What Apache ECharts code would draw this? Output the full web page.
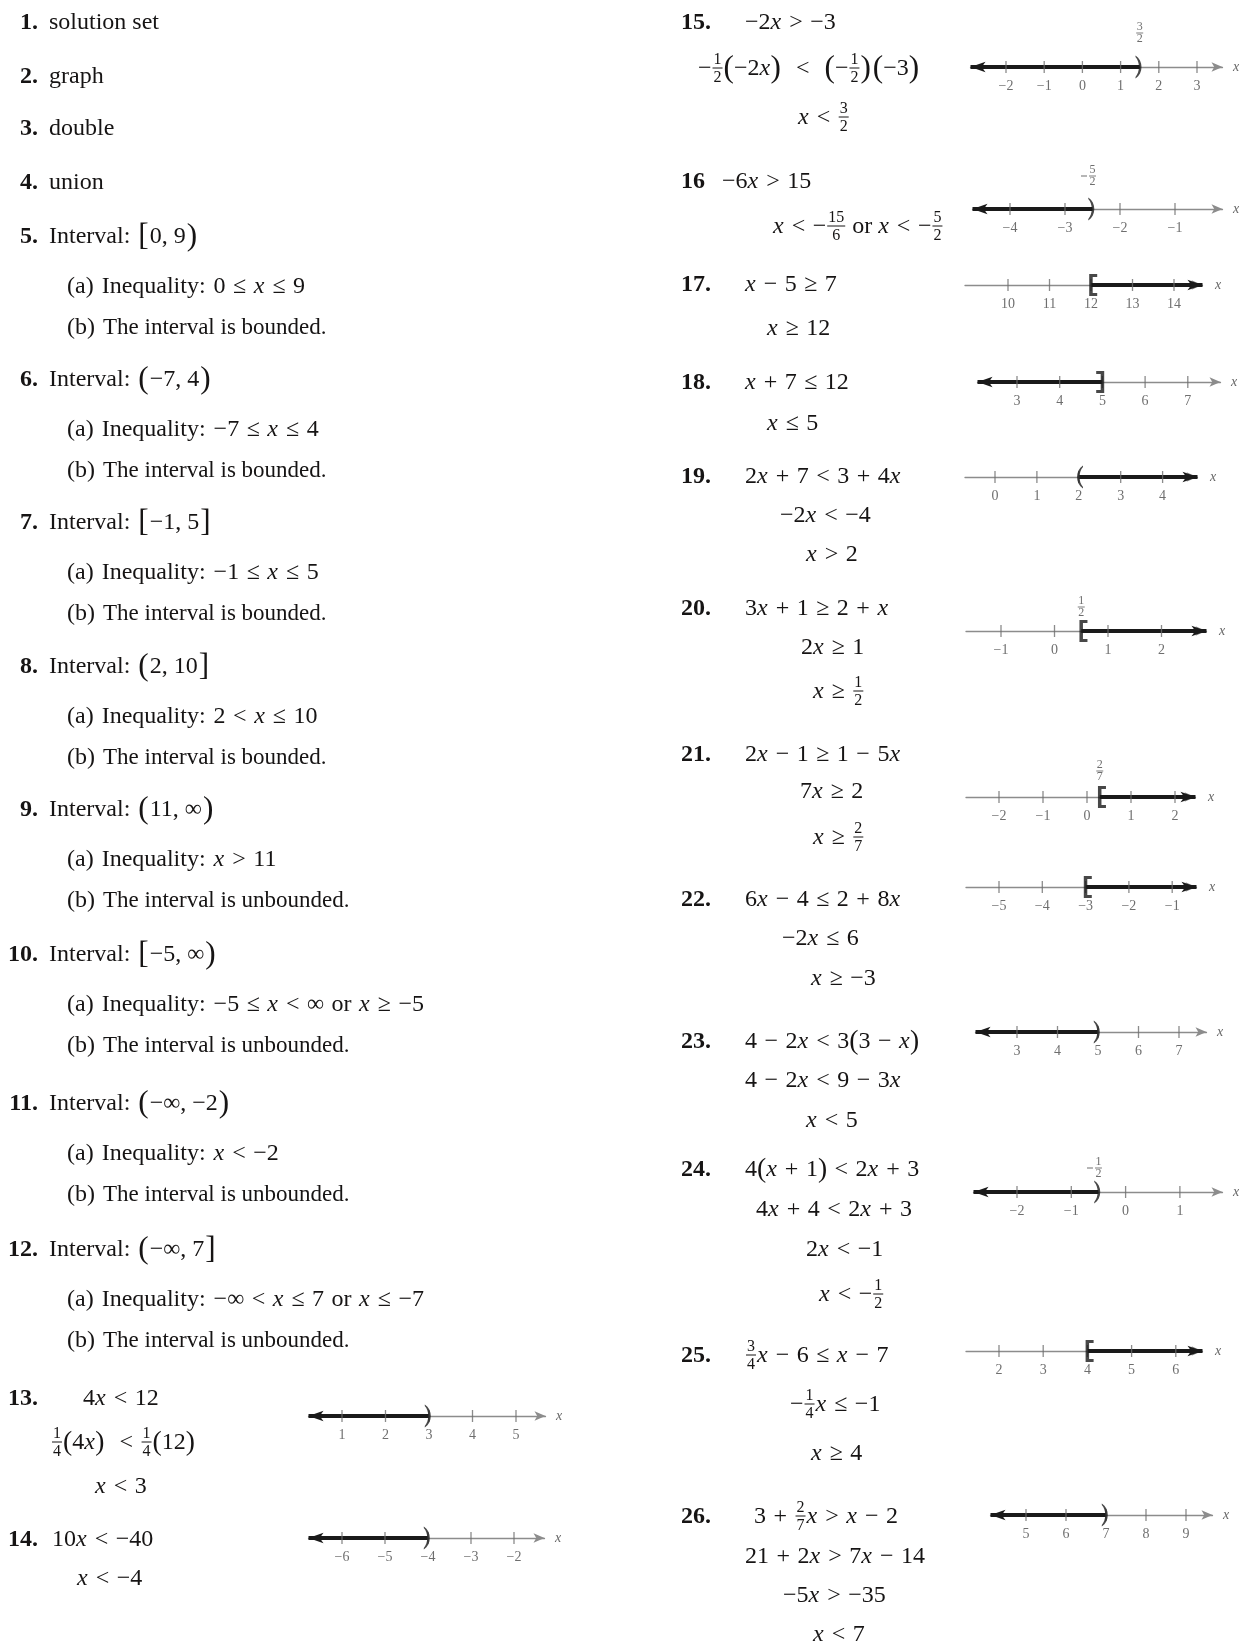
<!DOCTYPE html>
<html>
<head>
<meta charset="utf-8">
<script src="https://cdn.jsdelivr.net/npm/echarts@6/dist/echarts.min.js"></script>
<style>
  html, body { margin: 0; padding: 0; background: #fff; }
  #main { width: 1249px; height: 1642px; }
</style>
</head>
<body>
<div id="main"></div>
<script>
// ---- number line data (problems 13-26) ----
const nlProblems = [13, 14, 15, 16, 17, 18, 19, 20, 21, 22, 23, 24, 25, 26];
const nlTicks = [
  [1, 2, 3, 4, 5], [-6, -5, -4, -3, -2], [-2, -1, 0, 1, 2, 3], [-4, -3, -2, -1],
  [10, 11, 12, 13, 14], [3, 4, 5, 6, 7], [0, 1, 2, 3, 4], [-1, 0, 1, 2],
  [-2, -1, 0, 1, 2], [-5, -4, -3, -2, -1], [3, 4, 5, 6, 7], [-2, -1, 0, 1],
  [2, 3, 4, 5, 6], [5, 6, 7, 8, 9]
];
const nlEndpoints = [3, -4, 1.5, -2.5, 12, 5, 2, 0.5, 0.29, -3, 5, -0.5, 4, 7];
const nlBrackets = [')', ')', ')', ')', '[', ']', '(', '[', '[', '[', ')', ')', '[', ')'];
const nlEndLabels = ['', '', '3/2', '-5/2', '', '', '', '1/2', '2/7', '', '', '-1/2', '', ''];

// ---- text content ----
const leftNums = [['1.', 21], ['2.', 75], ['3.', 127], ['4.', 181], ['5.', 235], ['6.', 378], ['7.', 521],
  ['8.', 665], ['9.', 808], ['10.', 953], ['11.', 1102], ['12.', 1248], ['13.', 1397], ['14.', 1538]];
const vocabWords = ['solution set', 'graph', 'double', 'union'];
const intervalText = [['[', '0, 9', ')'], ['(', '−7, 4', ')'], ['[', '−1, 5', ']'], ['(', '2, 10', ']'],
  ['(', '11, ∞', ')'], ['[', '−5, ∞', ')'], ['(', '−∞, −2', ')'], ['(', '−∞, 7', ']']];
const inequalityText = ['0 ≤ x ≤ 9', '−7 ≤ x ≤ 4', '−1 ≤ x ≤ 5', '2 < x ≤ 10', 'x > 11',
  '−5 ≤ x < ∞ or x ≥ −5', 'x < −2', '−∞ < x ≤ 7 or x ≤ −7'];
const boundedText = ['bounded', 'bounded', 'bounded', 'bounded', 'unbounded', 'unbounded', 'unbounded', 'unbounded'];
const rightNums = [['15.', 21], ['16', 180], ['17.', 283], ['18.', 381], ['19.', 475], ['20.', 607], ['21.', 753],
  ['22.', 898], ['23.', 1040], ['24.', 1168], ['25.', 1354], ['26.', 1515]];

const F = (n, d) => ({ f: [n, d] });
const P = (c, s) => ({ d: c, s: s || 1.15 });
const G = (g) => ({ g: g });
// [x, y, parts]
const mathLines = [
  [83, 1397, '4x < 12'],
  [51, 1441, [F('1', '4'), P('('), '4x', P(')'), '  < ', F('1', '4'), P('('), '12', P(')')]],
  [95, 1485, 'x < 3'],
  [52, 1538, '10x < −40'],
  [77, 1577, 'x < −4'],
  [745, 21, '−2x > −3'],
  [698, 67, ['−', F('1', '2'), P('(', 1.3), '−2x', P(')', 1.3), '  <  ', P('(', 1.3), '−', F('1', '2'), P(')', 1.3), G(2), P('(', 1.3), '−3', P(')', 1.3)]],
  [798, 116, ['x < ', F('3', '2')]],
  [722, 180, '−6x > 15'],
  [773, 225, ['x < −', F('15', '6'), { t: ' or ' }, 'x < −', F('5', '2')]],
  [745, 283, 'x − 5 ≥ 7'],
  [767, 327, 'x ≥ 12'],
  [745, 381, 'x + 7 ≤ 12'],
  [767, 422, 'x ≤ 5'],
  [745, 475, '2x + 7 < 3 + 4x'],
  [780, 514, '−2x < −4'],
  [806, 553, 'x > 2'],
  [745, 607, '3x + 1 ≥ 2 + x'],
  [801, 646, '2x ≥ 1'],
  [813, 690, ['x ≥ ', F('1', '2')]],
  [745, 753, '2x − 1 ≥ 1 − 5x'],
  [800, 790, '7x ≥ 2'],
  [813, 836, ['x ≥ ', F('2', '7')]],
  [745, 898, '6x − 4 ≤ 2 + 8x'],
  [782, 937, '−2x ≤ 6'],
  [811, 977, 'x ≥ −3'],
  [745, 1040, ['4 − 2x < 3', P('('), '3 − x', P(')')]],
  [745, 1079, '4 − 2x < 9 − 3x'],
  [806, 1119, 'x < 5'],
  [745, 1168, ['4', P('('), 'x + 1', P(')'), ' < 2x + 3']],
  [756, 1208, '4x + 4 < 2x + 3'],
  [806, 1248, '2x < −1'],
  [819, 1293, ['x < −', F('1', '2')]],
  [745, 1354, [F('3', '4'), 'x − 6 ≤ x − 7']],
  [790, 1403, ['−', F('1', '4'), 'x ≤ −1']],
  [811, 1452, 'x ≥ 4'],
  [754, 1515, ['3 + ', F('2', '7'), 'x > x − 2']],
  [745, 1555, '21 + 2x > 7x − 14'],
  [783, 1594, '−5x > −35'],
  [813, 1633, 'x < 7']
];

// number line placement: [axis y, left end px, right end px, px of first tick, px per unit, fraction offset]
const nlLayout = [
  [1416, 301, 551, 342, 43.5, 0],
  [1538, 301, 550, 342, 43, 0],
  [67, 963, 1228, 1006, 38.2, 34],
  [209, 965, 1228, 1010, 55, 33],
  [285, 965, 1210, 1008, 41.5, 0],
  [382, 970, 1226, 1017, 42.7, 0],
  [477, 965, 1205, 995, 41.9, 0],
  [631, 966, 1214, 1001, 53.5, 24],
  [797, 966, 1203, 999, 44, 26],
  [887, 966, 1204, 999, 43.3, 0],
  [1032, 968, 1212, 1017, 40.5, 0],
  [1192, 966, 1228, 1017, 54.3, 24],
  [1351, 966, 1210, 999, 44.2, 0],
  [1515, 983, 1218, 1026, 40, 0]
];

const SERIF = '"Liberation Serif", "Times New Roman", Times, serif';
const INK = '#161414';
const RAY = '#1a1a1a';
const AXIS = '#8c8c8c';
const LABEL = '#4a4a4a';
const FS = 24, FRAC = 16, GAP = 7.5, DY = 2;

// text measuring for laying out math runs
const meas = document.createElement('canvas').getContext('2d');
function fontStr(size, italic, bold) {
  return (italic ? 'italic ' : 'normal ') + (bold ? 'bold ' : 'normal ') + size + 'px ' + SERIF;
}
function tw(s, size, italic, bold) {
  meas.font = fontStr(size, italic, bold);
  return meas.measureText(s).width;
}
const textEls = [];
function put(s, x, y, o) {
  o = o || {};
  const size = o.size || FS;
  textEls.push({
    type: 'text', x: x, y: y + DY, silent: true,
    style: {
      text: s, fill: o.fill || INK, font: fontStr(size, o.italic, o.bold),
      fontSize: size, fontFamily: SERIF,
      fontStyle: o.italic ? 'italic' : 'normal', fontWeight: o.bold ? 'bold' : 'normal',
      align: o.align || 'left', verticalAlign: 'middle',
      textAlign: o.align || 'left', textVerticalAlign: 'middle'
    }
  });
  return tw(s, size, o.italic, o.bold);
}
function mathLine(x, y, parts) {
  let cx = x;
  if (!Array.isArray(parts)) parts = [parts];
  parts.forEach(function (p) {
    if (typeof p === 'string') {
      let run = '';
      const flush = function () { if (run) { cx += put(run, cx, y); run = ''; } };
      for (const ch of p) {
        if (ch === ' ') { flush(); cx += GAP; }
        else if (ch === 'x') { flush(); cx += put('x', cx, y, { italic: true }) + 0.5; }
        else run += ch;
      }
      flush();
    } else if (p.t) {
      cx += put(p.t, cx, y, { size: p.s });
    } else if (p.g) {
      cx += p.g;
    } else if (p.d) {
      cx += put(p.d, cx, y, { size: FS * (p.s || 1.2) });
    } else if (p.f) {
      const fw = Math.max(tw(p.f[0], FRAC), tw(p.f[1], FRAC)) + 2;
      const mid = cx + 1 + fw / 2, ax = y - 1;
      put(p.f[0], mid, ax - 8.5, { size: FRAC, align: 'center' });
      put(p.f[1], mid, ax + 9.5, { size: FRAC, align: 'center' });
      textEls.push({ type: 'line', silent: true, shape: { x1: cx + 1, y1: ax + DY, x2: cx + 1 + fw, y2: ax + DY },
        style: { stroke: INK, lineWidth: 1 } });
      cx += fw + 2;
    }
  });
}

// left column
leftNums.forEach(n => put(n[0], 38, n[1], { bold: true, align: 'right' }));
rightNums.forEach(n => put(n[0], 681, n[1], { bold: true }));
vocabWords.forEach((wd, i) => put(wd, 49, leftNums[i][1]));
intervalText.forEach(function (iv, i) {
  const y = leftNums[i + 4][1];
  mathLine(49, y, [{ t: 'Interval:' }, G(8), P(iv[0], 1.3), G(1), { t: iv[1] }, G(1), P(iv[2], 1.3)]);
  mathLine(67, y + 50, [{ t: '(a)' }, G(8), { t: 'Inequality:' }, G(8), inequalityText[i]]);
  mathLine(67, y + 91, [{ t: '(b)' }, G(8), { t: 'The interval is ' + boundedText[i] + '.', s: 23 }]);
});
mathLines.forEach(l => mathLine(l[0], l[1], l[2]));

// number lines
const bracketPath = {
  '[': 'path://M0,0L8,0L8,3L3.5,3L3.5,19L8,19L8,22L0,22Z',
  ']': 'path://M0,0L8,0L8,22L0,22L0,19L4.5,19L4.5,3L0,3Z',
  '(': 'path://M7,0C0,5 0,17 7,22L7,20.5C3,16 3,6 7,1.5Z',
  ')': 'path://M0,0C7,5 7,17 0,22L0,20.5C4,16 4,6 0,1.5Z'
};
const bracketOffset = { '[': 2.2, ']': -2.2, '(': 1.2, ')': -1.2 };
const fmt = v => (v < 0 ? '−' + Math.abs(v) : String(v));

const grids = [], xAxes = [], yAxes = [], series = [];
nlProblems.forEach(function (pid, i) {
  const L = nlLayout[i];
  const y = L[0], leftPx = L[1], rightPx = L[2], t0px = L[3], unit = L[4], fracOff = L[5];
  const ticks = nlTicks[i];
  const end = nlEndpoints[i], br = nlBrackets[i];
  const goesLeft = br === ')' || br === ']';
  const gl = leftPx + (goesLeft ? 7.5 : 0);
  const gr = rightPx - (goesLeft ? 5.5 : 7.5);
  const toVal = px => ticks[0] + (px - t0px) / unit;
  const xmin = toVal(gl), xmax = toVal(gr);

  grids.push({ left: gl, top: y - 30, width: gr - gl, height: 60, containLabel: false, outerBoundsMode: 'none' });
  xAxes.push({
    gridIndex: i, type: 'value', min: xmin, max: xmax,
    name: 'x', nameLocation: 'end', nameGap: rightPx - gr + 5,
    nameTextStyle: { fontFamily: SERIF, fontStyle: 'italic', fontSize: 14, color: '#666', verticalAlign: 'middle' },
    axisLine: { show: true, onZero: true, symbol: ['none', 'arrow'], symbolSize: [7, 11],
      lineStyle: { color: AXIS, width: 1.3 } },
    axisTick: { show: false }, axisLabel: { show: false }, splitLine: { show: false }
  });
  yAxes.push({ gridIndex: i, type: 'value', min: -1, max: 1, show: false });

  // solution ray with arrow head
  const far = goesLeft ? xmin : xmax;
  series.push({
    type: 'line', xAxisIndex: i, yAxisIndex: i, silent: true, clip: false, z: 3,
    symbol: 'circle', showSymbol: true,
    data: [
      { value: [end, 0], symbol: 'none' },
      { value: [far, 0], symbol: 'arrow', symbolSize: [8, 15], symbolRotate: goesLeft ? 90 : -90 }
    ],
    lineStyle: { color: RAY, width: 4 }, itemStyle: { color: RAY }
  });
  // ticks and labels
  series.push({
    type: 'scatter', xAxisIndex: i, yAxisIndex: i, silent: true, clip: false, z: 4,
    data: ticks.map(t => [t, 0]), symbol: 'rect', symbolSize: [1.3, 12],
    itemStyle: { color: '#6e6e6e' },
    label: { show: true, position: 'bottom', distance: 6, formatter: p => fmt(p.value[0]),
      color: LABEL, fontSize: 14, fontFamily: SERIF }
  });
  // endpoint bracket
  series.push({
    type: 'scatter', xAxisIndex: i, yAxisIndex: i, silent: true, clip: false, z: 5,
    data: [[end, 0]], symbol: bracketPath[br],
    symbolSize: (br === '[' || br === ']') ? [8, 22] : [6, 23],
    symbolOffset: [bracketOffset[br], 0], itemStyle: { color: RAY }
  });
  // fraction label above the endpoint
  const lab = nlEndLabels[i];
  if (lab) {
    const neg = lab.charAt(0) === '-';
    const nd = lab.replace('-', '').split('/');
    const fdata = [{
      value: [end, 0], symbol: 'rect', symbolSize: [7, 0.9], symbolOffset: [0, -fracOff],
      label: { show: true, position: 'inside', formatter: '{n|' + nd[0] + '}\n{n|' + nd[1] + '}' }
    }];
    if (neg) fdata.push({ value: [end, 0], symbol: 'rect', symbolSize: [6, 1], symbolOffset: [-8.5, -fracOff], label: { show: false } });
    series.push({
      type: 'scatter', xAxisIndex: i, yAxisIndex: i, silent: true, clip: false, z: 5,
      data: fdata, itemStyle: { color: LABEL },
      label: { color: LABEL, rich: { n: { fontSize: 12, lineHeight: 12, fontFamily: SERIF, color: LABEL } } }
    });
  }
});

const chart = echarts.init(document.getElementById('main'));
chart.setOption({
  animation: false,
  backgroundColor: '#ffffff',
  textStyle: { fontFamily: SERIF },
  grid: grids,
  xAxis: xAxes,
  yAxis: yAxes,
  series: series,
  graphic: { elements: textEls }
});
</script>
</body>
</html>
